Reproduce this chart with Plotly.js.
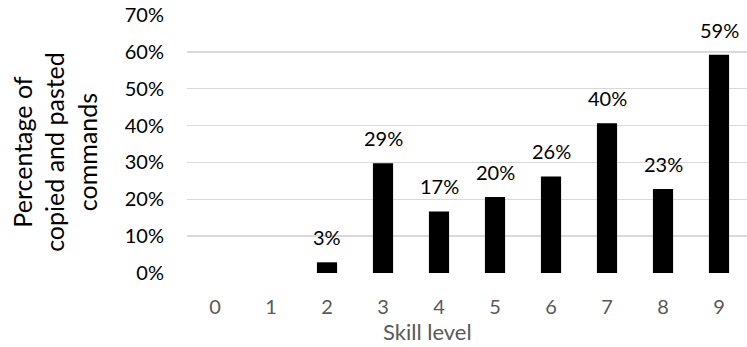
<!DOCTYPE html>
<html>
<head>
<meta charset="utf-8">
<script src="https://cdn.plot.ly/plotly-3.0.1.min.js"></script>
<style>html,body{margin:0;padding:0;background:#fff;}#chart{width:747px;height:347px;}</style>
</head>
<body>
<div id="chart"></div>
<script>
const skillLevels = ['0','1','2','3','4','5','6','7','8','9'];
const percentValues = [0, 0, 0.029, 0.298, 0.167, 0.206, 0.262, 0.406, 0.228, 0.592];
const percentLabels = ['', '', '3%', '29%', '17%', '20%', '26%', '40%', '23%', '59%'];
const yTickVals = [0, 0.1, 0.2, 0.3, 0.4, 0.5, 0.6, 0.7];
const yTickText = ['0%', '10%', '20%', '30%', '40%', '50%', '60%', '70%'];

const FONT = 'Lato, "Open Sans", sans-serif';

const trace = {
  type: 'bar',
  x: skillLevels,
  y: percentValues,
  marker: {color: '#000000'},
  width: 0.36,
  hoverinfo: 'skip'
};

const annotations = skillLevels.map((c, i) => ({
  x: c, y: percentValues[i], xref: 'x', yref: 'y',
  text: percentLabels[i], showarrow: false,
  yanchor: 'bottom', yshift: 11,
  font: {family: FONT, size: 20, color: '#000000'}
})).filter(a => a.text !== '');

annotations.push({
  xref: 'paper', yref: 'paper', x: 0.43, y: -0.228, yanchor: 'middle',
  text: 'Skill level', showarrow: false,
  font: {family: FONT, size: 22, color: '#595959'}
});

annotations.push({
  xref: 'paper', yref: 'paper', x: -0.236, y: 0.469,
  xanchor: 'center', yanchor: 'middle', textangle: -90, align: 'center',
  text: 'Percentage of<br>copied and pasted<br>commands', showarrow: false,
  font: {family: FONT, size: 25, color: '#000000'}
});

const layout = {
  width: 747, height: 347,
  margin: {l: 187, r: 0, t: 15, b: 74},
  paper_bgcolor: '#ffffff', plot_bgcolor: '#ffffff',
  showlegend: false,
  font: {family: FONT, size: 20, color: '#000000'},
  xaxis: {
    type: 'category',
    range: [-0.5, 9.5],
    showgrid: false, zeroline: false, showline: false,
    ticks: '', tickfont: {family: FONT, size: 20, color: '#595959'},
    ticklabelstandoff: 20
  },
  yaxis: {
    range: [0, 0.7],
    tickvals: yTickVals, ticktext: yTickText,
    showgrid: true, gridcolor: '#d9d9d9', gridwidth: 1.5,
    zeroline: false, showline: false, ticks: '',
    tickfont: {family: FONT, size: 20, color: '#000000'},
    ticklabelstandoff: 22
  },
  annotations: annotations
};

Plotly.newPlot('chart', [trace], layout, {displayModeBar: false, staticPlot: true});
</script>
</body>
</html>
